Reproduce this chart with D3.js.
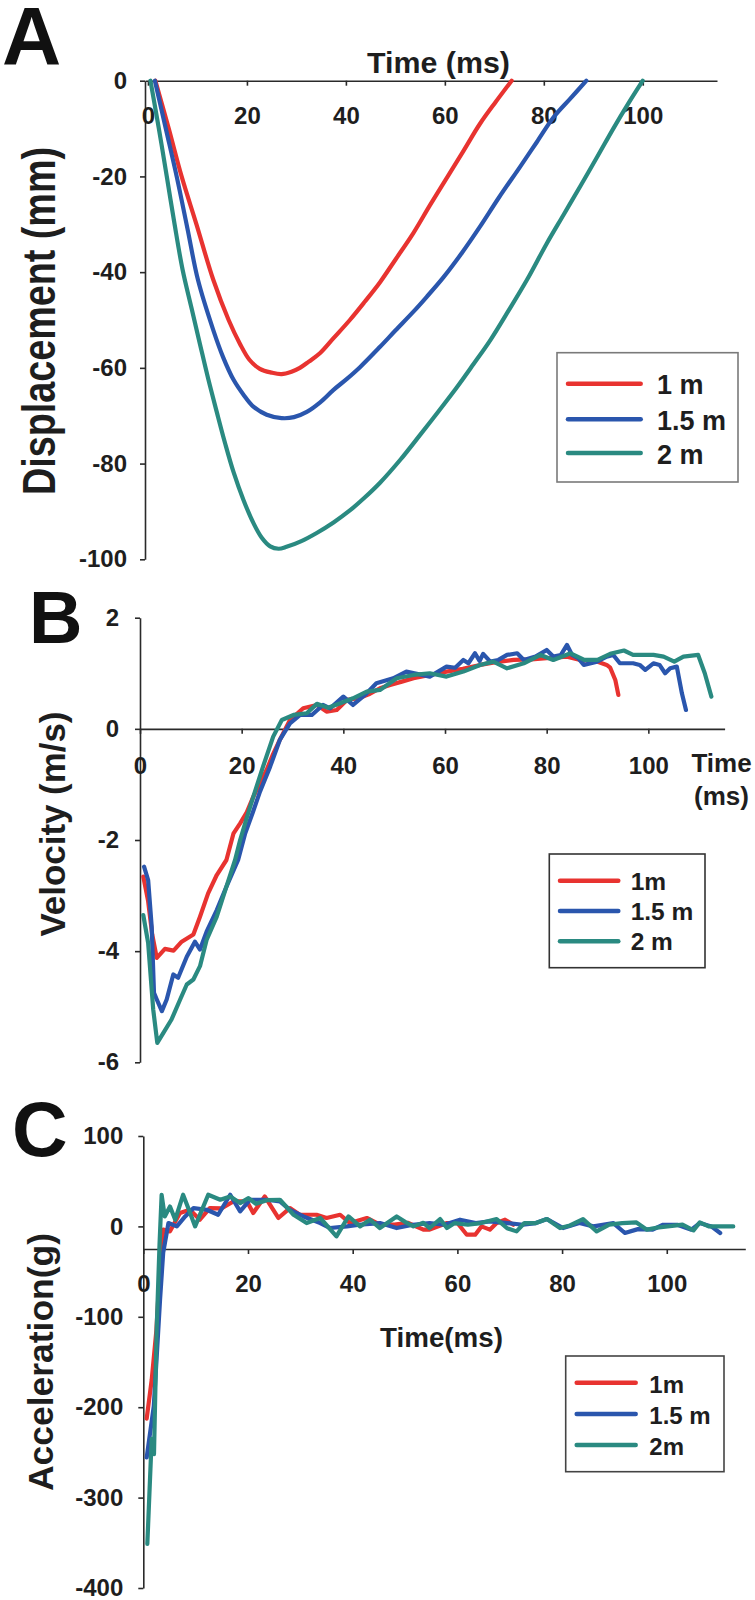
<!DOCTYPE html>
<html><head><meta charset="utf-8">
<script src="https://cdn.jsdelivr.net/npm/d3@7"></script>
<style>
html,body{margin:0;padding:0;background:#fff;}
svg{display:block;}
</style>
</head><body>
<svg id="chart" width="755" height="1600"></svg>
<script>
// ---------- DATA ----------
const seriesNames = ["1 m", "1.5 m", "2 m"];
const legendA = ["1 m", "1.5 m", "2 m"];
const legendB = ["1m", "1.5 m", "2 m"];
const legendC = ["1m", "1.5 m", "2m"];
const colors = ["#e83330", "#2a56ad", "#2a8a81"];

const xTicks = [0, 20, 40, 60, 80, 100];
const yTicksA = [0, -20, -40, -60, -80, -100];
const yTicksB = [2, 0, -2, -4, -6];
const yTicksC = [100, 0, -100, -200, -300, -400];

// Panel A: displacement (mm)
const tA_1m = [1.5, 4.2, 6.8, 9.8, 13.2, 16.3, 18.6, 20.5, 22.6, 25, 27, 29, 30.7, 32.5, 34.8, 37.5, 40.8, 43.8, 46.9, 50, 53.6, 57, 60.4, 63.8, 67.1, 70.3, 73.5];
const dA_1m = [0, -10, -20, -30, -41.6, -50, -55, -58.3, -60.2, -61, -61.3, -60.8, -60, -58.7, -56.9, -53.8, -50, -46.2, -42.1, -37.4, -31.9, -26, -20.3, -14.6, -9, -4.4, 0];
const tA_15m = [1.4, 3.6, 5.8, 8, 10.1, 13.2, 15.2, 17.3, 19.3, 21.3, 24, 27, 29.5, 32.1, 34.8, 37.5, 40.2, 42.9, 46.9, 50, 53.7, 56.3, 59.7, 63.5, 67.1, 71, 75.2, 78.6, 82, 85.3, 88.6];
const dA_15m = [0, -10, -20, -31, -41.6, -52.1, -57.8, -62.5, -65.6, -68.1, -69.8, -70.5, -70.3, -69.2, -67.2, -64.6, -62.3, -59.8, -55.6, -52.2, -48.2, -45.2, -41.1, -35.9, -30.5, -24.3, -18, -12.8, -7.6, -3.8, 0];
const tA_2m = [0.5, 2.2, 3.8, 5.3, 7, 8.8, 10.5, 12.2, 13.9, 15.6, 17.3, 19.3, 21.3, 23, 24.7, 26.4, 28, 31, 34.1, 37.5, 40.8, 43.8, 46.9, 51, 55, 58.7, 62.4, 65.8, 69.2, 72.9, 76.6, 80.6, 84, 87.4, 90.8, 94.1, 97, 100];
const dA_2m = [0, -10, -20, -29.5, -39.5, -47.5, -55, -62.4, -69.2, -75.8, -81.8, -87.6, -92.4, -95.5, -97.3, -97.8, -97.4, -96.2, -94.5, -92.3, -89.8, -87.1, -84.0, -79.2, -74, -69.1, -64.1, -59.2, -54.2, -48, -41.6, -34, -28, -22, -15.9, -9.9, -4.9, 0];

// Panel B: velocity (m/s)
const tB_1m = [0.65, 1.6, 2.4, 3.3, 4.9, 6.6, 8.2, 10.5, 11.8, 13.4, 15.1, 17, 18.4, 19.7, 21, 22.3, 23.6, 24.9, 26.2, 27.5, 29.5, 32.1, 34.8, 36.7, 38.7, 40.7, 43, 45, 47.2, 49.2, 51.5, 53.8, 57, 60.3, 63.5, 66.9, 70, 73.5, 77, 80, 84, 86.6, 89.9, 91.8, 92.5, 93.5, 94.1];
const vB_1m = [-2.66, -3.1, -3.7, -4.12, -3.96, -3.99, -3.83, -3.7, -3.38, -2.96, -2.63, -2.36, -1.88, -1.7, -1.5, -1.22, -0.98, -0.74, -0.45, -0.2, 0.16, 0.37, 0.43, 0.31, 0.34, 0.52, 0.55, 0.62, 0.73, 0.79, 0.85, 0.91, 0.97, 1.03, 1.08, 1.15, 1.2, 1.24, 1.25, 1.27, 1.3, 1.24, 1.21, 1.15, 1.1, 0.88, 0.61];
const tB_15m = [0.8, 1.6, 2.3, 2.75, 3.3, 4.3, 5.25, 6.55, 7.5, 9.2, 10.8, 11.8, 13.1, 15.1, 17, 19.3, 20.7, 22.2, 23.6, 25.6, 27.5, 29.5, 31.5, 33.8, 36, 37.4, 40, 41.9, 44.6, 46.5, 49.8, 52.4, 54, 57, 60.3, 62, 63.6, 64.6, 65.9, 66.8, 67.5, 68.9, 70.5, 72.2, 74.2, 75.5, 77.8, 80, 81.3, 82.8, 84, 85, 86.2, 87.3, 89.9, 91.8, 93.1, 94.4, 97, 98.3, 99.4, 101, 102.2, 103.3, 104.3, 105.6, 106.6, 107.4];
const vB_15m = [-2.48, -2.72, -3.56, -4.75, -4.87, -5.08, -4.87, -4.42, -4.48, -4.1, -3.83, -3.97, -3.65, -3.26, -2.84, -2.36, -1.88, -1.5, -1.13, -0.68, -0.2, 0.1, 0.25, 0.25, 0.43, 0.37, 0.58, 0.43, 0.64, 0.82, 0.91, 1.03, 1.0, 0.94, 1.12, 1.1, 1.24, 1.18, 1.36, 1.22, 1.35, 1.21, 1.24, 1.33, 1.36, 1.24, 1.3, 1.42, 1.3, 1.33, 1.51, 1.33, 1.27, 1.15, 1.21, 1.3, 1.33, 1.18, 1.18, 1.15, 1.06, 1.18, 1.15, 1.0, 1.09, 1.12, 0.64, 0.34];
const tB_2m = [0.65, 1.6, 2.6, 3.4, 4.6, 6.2, 7.9, 9.2, 10.5, 11.8, 13.1, 15.1, 17, 18.7, 19.7, 21, 22.3, 24.2, 26.2, 27.9, 30.2, 32.8, 34.8, 37, 39.4, 41.9, 44.6, 47.2, 50.5, 53.8, 57, 60.3, 63.6, 66.9, 69.5, 72.2, 75.5, 78.8, 81.3, 84.7, 87.4, 90, 92.5, 95.2, 97, 101, 103, 105.1, 106.9, 109.8, 111.1, 112.4];
const vB_2m = [-3.35, -3.85, -5.05, -5.65, -5.47, -5.23, -4.87, -4.6, -4.51, -4.27, -3.8, -3.38, -2.84, -2.36, -2.0, -1.6, -1.22, -0.68, -0.14, 0.16, 0.25, 0.28, 0.45, 0.38, 0.46, 0.55, 0.67, 0.7, 0.91, 0.97, 1.0, 0.94, 1.03, 1.15, 1.21, 1.09, 1.18, 1.33, 1.24, 1.36, 1.24, 1.24, 1.35, 1.41, 1.33, 1.33, 1.3, 1.21, 1.3, 1.33, 1.0, 0.58];

// Panel C: acceleration (g)
const tC_1m = [0.65, 1.6, 2.5, 3.2, 3.8, 5.1, 7, 8.9, 10.8, 12.7, 15, 17.2, 19.8, 21, 23.2, 25.8, 28, 29.9, 33.1, 35, 37.6, 39.5, 42.7, 45.2, 48, 50.5, 53.5, 54.7, 58, 60, 61.8, 63.4, 64.6, 66.2, 67.5, 69.1, 70.7];
const aC_1m = [-212.6, -170, -115, -45, -3.6, -5.5, 14.8, 18.4, 7.4, 20.3, 20, 27.6, 27.6, 14.8, 33.1, 9.3, 20.3, 12.9, 12.9, 9.3, 12.9, 3.7, 9.3, 1.9, 1.9, 4, -3.6, -3.6, 3.7, 3.7, -9.2, -9.2, 0, -3.6, 3.7, 7.4, 1.8];
const tC_15m = [0.65, 2.0, 3.2, 3.8, 4.8, 6.4, 8, 9.6, 12.1, 14.3, 16.6, 18.5, 20.4, 23.6, 26.1, 28, 30.6, 33.8, 35.7, 38.9, 41.3, 45.2, 48.4, 51.5, 54.7, 57.5, 60.5, 63.5, 66.2, 69.5, 72.5, 75, 77.1, 80.2, 83.3, 86, 89.8, 92, 94.5, 97.3, 99.3, 102, 104.7, 106.3, 108.5, 110.2];
const aC_15m = [-255.6, -199, -81, -29, 3.7, 0, 11, 20.3, 18.4, 12.9, 35, 16.6, 29.5, 29.5, 27.6, 18.4, 11, 3.7, -1.8, 0, 1.8, 3.7, -1.8, 1.8, 3.7, 1.8, 7.4, 3.7, 5.5, 3.7, 1.8, 3.7, 8.1, -1.8, 3.7, 0, 3.7, -7.3, -3, -3.6, 1.8, 1.8, -3.6, 3.7, 0, -7.3];
const tC_2m = [0.77, 1.6, 2.04, 2.55, 3.1, 3.5, 4.1, 5.1, 6.1, 7.6, 8.6, 9.9, 12.4, 14.7, 16.6, 18.5, 20.1, 21.5, 23.6, 26.1, 28.7, 31.2, 33.8, 36.9, 39.2, 41.4, 43.3, 45.2, 48.4, 50, 51.6, 53.5, 54.7, 56.7, 58, 59.5, 62, 64.5, 67.5, 69.5, 71.3, 72.8, 75, 77.1, 79.6, 81.5, 84, 86.6, 89, 91.5, 94.2, 96.2, 98.5, 101, 103, 105.1, 106.3, 108, 112.7];
const aC_2m = [-351.3, -235, -252, -114, -20, 35, 11, 22, 7.4, 35, 20, 0, 35, 29.5, 33.1, 25.8, 31.3, 25, 29, 29.5, 12.9, 3.7, 9.3, -11, 11, 0, 7.4, -1.8, 11, 5, 0, 4, -1.8, 8.1, -1.8, 3.7, 1.8, 3.7, 8.1, -2, -5.5, 3.7, 3.7, 8.1, -1.8, 1, 8.1, -5.5, 2, 3.7, 4.4, -3.6, -1, 0.5, 2, -4.4, 4.4, 0, 0];

const xAxisCrossC = -25;

// ---------- DRAWING ----------
const FONT = "'Liberation Sans', Arial, Helvetica, sans-serif";
const svg = d3.select("#chart");
const zip = (ts, vs) => ts.map((t, i) => [t, vs[i]]);

function styleAxis(g, fs) {
  g.selectAll("path.domain").attr("stroke", "#2a2a2a").attr("stroke-width", 1.6);
  g.selectAll(".tick line").attr("stroke", "#2a2a2a").attr("stroke-width", 1.6);
  g.selectAll(".tick text").attr("font-family", FONT).attr("font-weight", "bold")
    .attr("font-size", fs).attr("fill", "#1e1e1e");
}

function panel(cfg) {
  const g = svg.append("g");
  const x = d3.scaleLinear().domain(cfg.xDomain).range(cfg.xRange);
  const y = d3.scaleLinear().domain(cfg.yDomain).range(cfg.yRange);

  const yAxis = d3.axisLeft(y).tickValues(cfg.yTicks).tickSize(5).tickSizeOuter(0)
    .tickPadding(cfg.yPad).tickFormat(d => String(d));
  g.append("g").attr("transform", `translate(${cfg.yAxisX},0)`).call(yAxis).call(s => styleAxis(s, 24));

  const xAxis = d3.axisBottom(x).tickValues(xTicks).tickSize(5).tickSizeOuter(0)
    .tickPadding(cfg.xPad).tickFormat(d => String(d));
  g.append("g").attr("transform", `translate(0,${y(cfg.xCross)})`).call(xAxis).call(s => styleAxis(s, 24));

  const line = d3.line().x(d => x(d[0])).y(d => y(d[1])).curve(cfg.curve);
  cfg.series.forEach((s, i) => {
    g.append("path").datum(s).attr("d", line).attr("fill", "none")
      .attr("stroke", colors[i]).attr("stroke-width", 4.2)
      .attr("stroke-linejoin", "round").attr("stroke-linecap", "round");
  });

  // legend
  const L = cfg.legend;
  g.append("rect").attr("x", L.x0).attr("y", L.y0).attr("width", L.x1 - L.x0).attr("height", L.y1 - L.y0)
    .attr("fill", "#fff").attr("stroke", L.stroke).attr("stroke-width", 1.6);
  L.labels.forEach((lab, i) => {
    const ly = L.ys[i];
    g.append("line").attr("x1", L.lx0).attr("x2", L.lx1).attr("y1", ly).attr("y2", ly)
      .attr("stroke", colors[i]).attr("stroke-width", 4.5).attr("stroke-linecap", "round");
    g.append("text").attr("x", L.tx).attr("y", ly + L.dy).text(lab)
      .attr("font-family", FONT).attr("font-weight", "bold").attr("font-size", L.fs).attr("fill", "#1e1e1e");
  });
  return g;
}

function txt(x, y, s, fs, opts = {}) {
  const t = svg.append("text").attr("x", x).attr("y", y).text(s)
    .attr("font-family", FONT).attr("font-weight", "bold").attr("font-size", fs)
    .attr("fill", opts.fill || "#1e1e1e").attr("text-anchor", opts.anchor || "start");
  if (opts.len) t.attr("textLength", opts.len).attr("lengthAdjust", "spacingAndGlyphs");
  if (opts.rotate) t.attr("transform", `rotate(-90,${x},${y})`);
  return t;
}

// Panel A
panel({
  xDomain: [-0.6, 115], xRange: [145, 717],
  yDomain: [-100, 0], yRange: [559.3, 80.7],
  yTicks: yTicksA, yAxisX: 145, yPad: 13, xPad: 21, xCross: 0,
  curve: d3.curveCatmullRom.alpha(0.5),
  series: [zip(tA_1m, dA_1m), zip(tA_15m, dA_15m), zip(tA_2m, dA_2m)],
  legend: { x0: 557, x1: 738, y0: 352.7, y1: 482, lx0: 568, lx1: 640.7, tx: 657,
            ys: [383.7, 419.3, 453], dy: 10.5, fs: 27, labels: legendA, stroke: "#7a7a7a" }
});
// Panel B
panel({
  xDomain: [0, 115], xRange: [140, 724.6],
  yDomain: [-6, 2], yRange: [1062.3, 617.7],
  yTicks: yTicksB, yAxisX: 140, yPad: 16, xPad: 23, xCross: 0,
  curve: d3.curveLinear,
  series: [zip(tB_1m, vB_1m), zip(tB_15m, vB_15m), zip(tB_2m, vB_2m)],
  legend: { x0: 549.3, x1: 705, y0: 854, y1: 967.7, lx0: 560, lx1: 618.3, tx: 630.7,
            ys: [880.7, 911, 941.3], dy: 8.8, fs: 24.5, labels: legendB, stroke: "#333" }
});
// Panel C
panel({
  xDomain: [0, 115], xRange: [143.3, 745.3],
  yDomain: [-400, 100], yRange: [1588, 1136],
  yTicks: yTicksC, yAxisX: 143.3, yPad: 15, xPad: 21, xCross: xAxisCrossC,
  curve: d3.curveLinear,
  series: [zip(tC_1m, aC_1m), zip(tC_15m, aC_15m), zip(tC_2m, aC_2m)],
  legend: { x0: 565.7, x1: 724, y0: 1356, y1: 1471.7, lx0: 576.7, lx1: 635.7, tx: 649.3,
            ys: [1382.7, 1414, 1445], dy: 10, fs: 24, labels: legendC, stroke: "#444" }
});

// Panel letters
txt(2, 64, "A", 82, { fill: "#111" });
txt(29, 643, "B", 74, { fill: "#111" });
txt(12, 1156, "C", 77, { fill: "#111" });

// Axis titles
txt(367, 73, "Time (ms)", 29, { len: 143 });
txt(721.5, 771.7, "Time", 26, { anchor: "middle" });
txt(721.5, 805, "(ms)", 26, { anchor: "middle" });
txt(380, 1347, "Time(ms)", 28, { len: 123 });

txt(55, 321, "Displacement (mm)", 46, { anchor: "middle", rotate: true, len: 348 });
txt(65, 824, "Velocity (m/s)", 35, { anchor: "middle", rotate: true, len: 225 });
txt(53, 1362, "Acceleration(g)", 35, { anchor: "middle", rotate: true, len: 258 });
</script>
</body></html>
